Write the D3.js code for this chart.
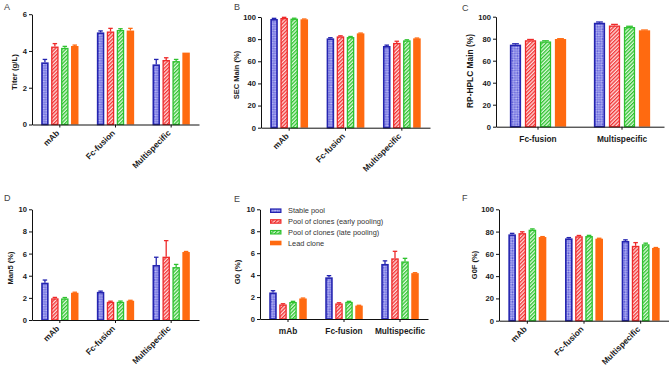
<!DOCTYPE html>
<html>
<head>
<meta charset="utf-8">
<script src="https://cdn.jsdelivr.net/npm/d3@7"></script>
<style>
  body { margin: 0; background: #fff; }
  svg { display: block; font-family: "Liberation Sans", Arial, sans-serif; }
</style>
</head>
<body>
<svg id="chart" width="669" height="370"></svg>
<script>
// series + categories
const seriesNames = ['Stable pool', 'Pool of clones (early pooling)', 'Pool of clones (late pooling)', 'Lead clone'];
const cats3 = ['mAb', 'Fc-fusion', 'Multispecific'];
const cats2 = ['Fc-fusion', 'Multispecific'];

// values per category, one entry per series (mean, then upper error)
const titerMean = [[3.38, 4.24, 4.17, 4.27], [5.01, 5.06, 5.14, 5.11], [3.27, 3.51, 3.45, 3.91]];
const titerErr  = [[0.16, 0.16, 0.08, 0.05], [0.08, 0.17, 0.07, 0.12], [0.27, 0.12, 0.09, 0.0]];
const secMean = [[98.2, 99.1, 98.5, 97.9], [80.7, 82.5, 81.9, 85.2], [73.8, 76.6, 78.9, 80.7]];
const secErr  = [[0.6, 0.6, 0.4, 0.3], [0.6, 0.5, 0.5, 0.3], [0.8, 1.5, 0.5, 0.3]];
const rpMean = [[74.6, 78.6, 77.5, 79.7], [94.5, 92.0, 90.6, 87.6]];
const rpErr  = [[0.8, 0.7, 0.6, 0.3], [0.7, 1.0, 0.7, 0.3]];
const man5Mean = [[3.37, 1.96, 1.95, 2.46], [2.54, 1.64, 1.64, 1.74], [4.97, 5.72, 4.78, 6.14]];
const man5Err  = [[0.24, 0.08, 0.08, 0.05], [0.07, 0.06, 0.07, 0.04], [0.7, 1.45, 0.24, 0.05]];
const g0Mean = [[2.42, 1.33, 1.55, 1.87], [3.8, 1.42, 1.56, 1.22], [5.02, 5.53, 5.25, 4.18]];
const g0Err  = [[0.16, 0.06, 0.06, 0.04], [0.15, 0.06, 0.05, 0.03], [0.28, 0.64, 0.28, 0.04]];
const g0fMean = [[77.5, 78.6, 81.7, 75.1], [73.9, 75.8, 76.0, 73.6], [71.6, 67.2, 68.6, 65.3]];
const g0fErr  = [[0.9, 1.2, 0.7, 0.4], [0.7, 0.7, 0.6, 0.4], [1.0, 2.9, 1.0, 0.4]];

const yTicks10 = [0, 2, 4, 6, 8, 10];
const yTicks100 = [0, 20, 40, 60, 80, 100];
const yTicksTiter = [0, 2, 4, 6];

const edge = ['#2424b0', '#ee2a2a', '#2fc22f', '#ff6a10'];

const svg = d3.select('#chart');
const defs = svg.append('defs');

// fills: checker for blue, hatch for red/green, solid orange
const pb = defs.append('pattern').attr('id', 'fill0')
  .attr('patternUnits', 'userSpaceOnUse').attr('width', 2.4).attr('height', 2.4)
  .attr('patternTransform', 'rotate(45)');
pb.append('rect').attr('width', 2.4).attr('height', 2.4).attr('fill', '#c0c0f6');
pb.append('rect').attr('width', 1.2).attr('height', 1.2).attr('fill', '#5c5cd8');
pb.append('rect').attr('x', 1.2).attr('y', 1.2).attr('width', 1.2).attr('height', 1.2).attr('fill', '#5c5cd8');

function hatch(id, bg, fg) {
  const p = defs.append('pattern').attr('id', id)
    .attr('patternUnits', 'userSpaceOnUse').attr('width', 2.6).attr('height', 2.6)
    .attr('patternTransform', 'rotate(45)');
  p.append('rect').attr('width', 2.6).attr('height', 2.6).attr('fill', bg);
  p.append('rect').attr('width', 1.3).attr('height', 2.6).attr('fill', fg);
}
hatch('fill1', '#ffdcdc', '#f03434');
hatch('fill2', '#e0fae0', '#30c230');
const fills = ['url(#fill0)', 'url(#fill1)', 'url(#fill2)', '#ff6a10'];

const panels = [
  { letter: 'A', lx: 4, ly: 10, x0: 32, x1: 199, yt: 14.2, yb: 124.5, max: 6, ticks: yTicksTiter,
    title: 'Titer (g/L)', tx: 14, ty: 72, tfs: 7.8, cats: cats3, mean: titerMean, err: titerErr, rot: true },
  { letter: 'B', lx: 234, ly: 10, x0: 261, x1: 430, yt: 17, yb: 127.7, max: 100, ticks: yTicks100,
    title: 'SEC Main (%)', tx: 236, ty: 75, tfs: 7.5, cats: cats3, mean: secMean, err: secErr, rot: true },
  { letter: 'C', lx: 462, ly: 11, x0: 496, x1: 664, yt: 16.7, yb: 126.7, max: 100, ticks: yTicks100,
    title: 'RP-HPLC Main (%)', tx: 470, ty: 71, tfs: 8.4, cats: cats2, mean: rpMean, err: rpErr, rot: false },
  { letter: 'D', lx: 4, ly: 201, x0: 32, x1: 199, yt: 209.3, yb: 320, max: 10, ticks: yTicks10,
    title: 'Man5 (%)', tx: 10, ty: 268, tfs: 7.5, cats: cats3, mean: man5Mean, err: man5Err, rot: true },
  { letter: 'E', lx: 234, ly: 202, x0: 260, x1: 428, yt: 209.3, yb: 319, max: 10, ticks: yTicks10,
    title: 'G0 (%)', tx: 237, ty: 272, tfs: 7.8, cats: cats3, mean: g0Mean, err: g0Err, rot: false },
  { letter: 'F', lx: 462, ly: 201, x0: 499, x1: 669, yt: 209.3, yb: 320.7, max: 100, ticks: yTicks100,
    title: 'G0F (%)', tx: 474, ty: 265, tfs: 7.5, cats: cats3, mean: g0fMean, err: g0fErr, rot: true }
];

panels.forEach(p => {
  const g = svg.append('g');
  const x = d3.scaleBand().domain(p.cats).range([p.x0, p.x1]);
  const y = d3.scaleLinear().domain([0, p.max]).range([p.yb, p.yt]);
  const inner = d3.scaleBand().domain(d3.range(seriesNames.length))
    .range([0, x.bandwidth() * 0.67]).paddingInner(0.25);
  const off = x.bandwidth() * (1 - 0.67) / 2;
  const bw = inner.bandwidth();

  g.append('text').attr('x', p.lx).attr('y', p.ly).attr('font-size', 9)
    .attr('fill', '#444').text(p.letter);

  p.cats.forEach((c, ci) => {
    seriesNames.forEach((s, si) => {
      const v = p.mean[ci][si], e = p.err[ci][si];
      const bx = x(c) + off + inner(si);
      const sw = si === 3 ? 0 : (si === 0 ? 1.6 : 1.3);
      // error bar (upper only)
      if (e > 0) {
        g.append('line').attr('x1', bx + bw / 2).attr('x2', bx + bw / 2)
          .attr('y1', y(v)).attr('y2', y(v + e))
          .attr('stroke', edge[si]).attr('stroke-width', 1.3);
        g.append('line').attr('x1', bx + bw * 0.2).attr('x2', bx + bw * 0.8)
          .attr('y1', y(v + e)).attr('y2', y(v + e))
          .attr('stroke', edge[si]).attr('stroke-width', 1.3);
      }
      g.append('rect')
        .attr('x', bx + sw / 2).attr('y', y(v) + sw / 2)
        .attr('width', bw - sw).attr('height', Math.max(0, y(0) - y(v) - sw / 2))
        .attr('fill', fills[si])
        .attr('stroke', sw ? edge[si] : 'none').attr('stroke-width', sw);
    });
  });

  const ya = g.append('g').attr('transform', `translate(${p.x0},0)`)
    .call(d3.axisLeft(y).tickValues(p.ticks).tickFormat(d3.format('d'))
      .tickSize(3).tickSizeOuter(0).tickPadding(2));
  const xa = g.append('g').attr('transform', `translate(0,${p.yb})`)
    .call(d3.axisBottom(x).tickSize(3).tickSizeOuter(0));
  [ya, xa].forEach(a => {
    a.select('.domain').attr('stroke', '#111').attr('stroke-width', 1);
    a.selectAll('.tick line').attr('stroke', '#111');
    a.selectAll('text').attr('font-family', '"Liberation Sans", Arial, sans-serif')
      .attr('font-weight', 'bold').attr('fill', '#1a1a1a');
  });
  ya.selectAll('text').attr('font-size', 7.6);
  xa.selectAll('text').attr('font-size', 8.3);
  if (p.rot) {
    xa.selectAll('text').attr('text-anchor', 'end')
      .attr('transform', 'translate(-2,7) rotate(-45)').attr('dy', '0.35em').attr('y', 0);
  } else {
    xa.selectAll('text').attr('y', 9);
  }

  g.append('text')
    .attr('transform', `translate(${p.tx},${p.ty}) rotate(-90)`)
    .attr('text-anchor', 'middle').attr('dy', '0.35em')
    .attr('font-size', p.tfs).attr('font-weight', 'bold').attr('fill', '#1a1a1a')
    .text(p.title);
});

// legend inside panel E
const leg = svg.append('g');
const legY = d3.scalePoint().domain(seriesNames).range([210.7, 243]);
seriesNames.forEach((s, i) => {
  const sw = i === 3 ? 0 : 1.2;
  leg.append('rect').attr('x', 270 + sw / 2).attr('y', legY(s) - 2.3 + sw / 2)
    .attr('width', 11.5 - sw).attr('height', 4.6 - sw)
    .attr('fill', fills[i]).attr('stroke', sw ? edge[i] : 'none').attr('stroke-width', sw);
  leg.append('text').attr('x', 288).attr('y', legY(s)).attr('dy', '0.35em')
    .attr('font-size', 7.4).attr('fill', '#333').text(s);
});
</script>
</body>
</html>
